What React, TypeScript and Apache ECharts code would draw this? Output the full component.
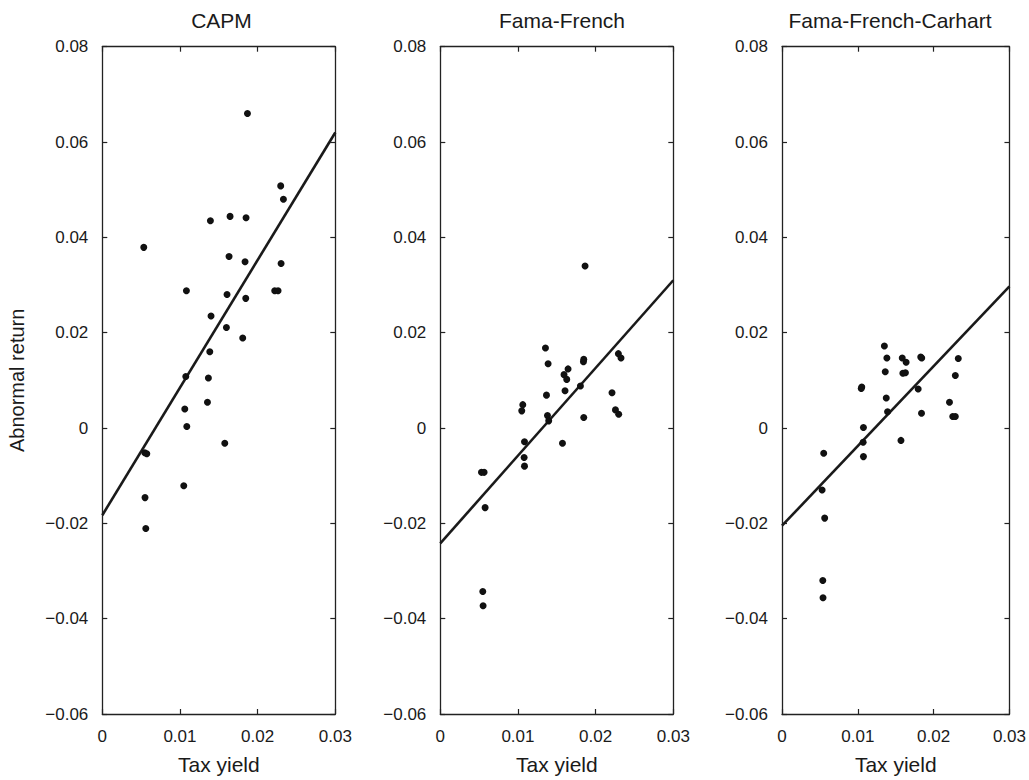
import React, { useEffect, useRef } from "react";
import * as echarts from "echarts";

const panelTitles = ["CAPM", "Fama-French", "Fama-French-Carhart"];
const xTicks = { min: 0, max: 0.03, interval: 0.01 };
const yTicks = { min: -0.06, max: 0.08, interval: 0.02 };
const xAxisName = "Tax yield";
const yAxisName = "Abnormal return";

const capmPoints: [number, number][] = [
  [0.01869, 0.066], [0.02297, 0.0508], [0.02332, 0.048], [0.01392, 0.0435],
  [0.01645, 0.0444], [0.01851, 0.0441], [0.00534, 0.0379], [0.01632, 0.036],
  [0.01838, 0.0349], [0.02302, 0.0345], [0.01083, 0.0288], [0.01606, 0.028],
  [0.01847, 0.0272], [0.0222, 0.0288], [0.02263, 0.0288], [0.014, 0.0235],
  [0.01598, 0.0211], [0.01808, 0.0189], [0.01384, 0.016], [0.01075, 0.0108],
  [0.01366, 0.0105], [0.01354, 0.0054], [0.01062, 0.004], [0.01088, 0.0003],
  [0.01577, -0.0032], [0.00547, -0.0052], [0.00573, -0.0054], [0.01049, -0.0121],
  [0.0055, -0.0146], [0.0056, -0.0211],
];

const ffPoints: [number, number][] = [
  [0.01864, 0.034], [0.01354, 0.0168], [0.01388, 0.0135], [0.01847, 0.0144],
  [0.01843, 0.0139], [0.02293, 0.0156], [0.02327, 0.0147], [0.01645, 0.0124],
  [0.01593, 0.0112], [0.01628, 0.0102], [0.01804, 0.0088], [0.02211, 0.0074],
  [0.01367, 0.0069], [0.01606, 0.0078], [0.01062, 0.0049], [0.01049, 0.0036],
  [0.02255, 0.0038], [0.02297, 0.0029], [0.0138, 0.0026], [0.01396, 0.0015],
  [0.01847, 0.0022], [0.01084, -0.0029], [0.01573, -0.0032], [0.01079, -0.0062],
  [0.01084, -0.008], [0.0053, -0.0093], [0.00564, -0.0093], [0.00577, -0.0167],
  [0.00547, -0.0343], [0.00551, -0.0373],
];

const ffcPoints: [number, number][] = [
  [0.0135, 0.0172], [0.01383, 0.0147], [0.01586, 0.0147], [0.01637, 0.0138],
  [0.0183, 0.0149], [0.01843, 0.0147], [0.02325, 0.0146], [0.01362, 0.0118],
  [0.01594, 0.0115], [0.01628, 0.0116], [0.02286, 0.011], [0.01045, 0.0083],
  [0.01052, 0.0086], [0.01796, 0.0082], [0.01375, 0.0063], [0.02209, 0.0054],
  [0.01392, 0.0034], [0.0184, 0.0031], [0.02252, 0.0024], [0.02286, 0.0024],
  [0.01074, 0.0001], [0.0107, -0.003], [0.01569, -0.0026], [0.0055, -0.0053],
  [0.01074, -0.006], [0.00529, -0.013], [0.00563, -0.0189], [0.00538, -0.032],
  [0.00541, -0.0356],
];

// regression line endpoints at x = 0 and x = 0.03
const lineX = [0, 0.03];
const capmLine = [-0.0183, 0.062];
const ffLine = [-0.0242, 0.031];
const ffcLine = [-0.0205, 0.0297];

const FONT = "'Liberation Sans', Arial, Helvetica, sans-serif";
const INK = "#1a1a1a";

export default function App() {
  const ref = useRef<HTMLDivElement>(null);

  useEffect(() => {
    if (!ref.current) return;
    document.body.style.margin = "0";
    document.documentElement.style.overflow = "hidden";
    document.body.style.overflow = "hidden";
    const chart = echarts.init(ref.current, undefined, { renderer: "svg" });

    const W = 1029;
    const H = 780;
    const pctW = (v: number) => (v / W) * 100 + "%";
    const pctH = (v: number) => (v / H) * 100 + "%";

    const gridLefts = [102.3, 440.3, 782];
    const gridWidths = [233, 233, 232];
    const titleCenters = [216.5, 557, 885];
    const pointsSets = [capmPoints, ffPoints, ffcPoints];
    const lines = [capmLine, ffLine, ffcLine];

    const fmtY = (v: number) =>
      Math.abs(v) < 1e-9 ? "0" : (v < 0 ? "\u2212" : "") + Math.abs(v).toFixed(2);
    const fmtX = (v: number) => (Math.abs(v) < 1e-9 ? "0" : v.toFixed(2));

    const axisLine = { show: true, onZero: false, lineStyle: { color: "#222", width: 1.3 } };
    const tick = { show: true, inside: true, length: 5, lineStyle: { color: "#222", width: 1.2 } };

    const grid: any[] = [];
    const xAxis: any[] = [];
    const yAxis: any[] = [];
    const series: any[] = [];
    const title: any[] = [];

    for (let i = 0; i < 3; i++) {
      grid.push({
        left: pctW(gridLefts[i]),
        width: pctW(gridWidths[i]),
        top: pctH(46.7),
        height: pctH(672),
      });
      title.push({
        text: panelTitles[i],
        left: pctW(titleCenters[i]),
        textAlign: "center",
        top: 5,
        textStyle: { fontFamily: FONT, fontSize: 21, fontWeight: "normal", color: INK },
      });
      xAxis.push({
        type: "value",
        gridIndex: i,
        position: "bottom",
        min: xTicks.min,
        max: xTicks.max,
        interval: xTicks.interval,
        name: xAxisName,
        nameLocation: "middle",
        nameGap: 40,
        nameTextStyle: { fontFamily: FONT, fontSize: 21, color: INK },
        axisLine,
        axisTick: tick,
        axisLabel: { fontFamily: FONT, fontSize: 17, color: INK, margin: 14, formatter: fmtX },
        splitLine: { show: false },
      });
      xAxis.push({
        type: "value",
        gridIndex: i,
        position: "top",
        min: xTicks.min,
        max: xTicks.max,
        interval: xTicks.interval,
        axisLine,
        axisTick: tick,
        axisLabel: { show: false },
        splitLine: { show: false },
      });
      yAxis.push({
        type: "value",
        gridIndex: i,
        position: "left",
        min: yTicks.min,
        max: yTicks.max,
        interval: yTicks.interval,
        name: i === 0 ? yAxisName : "",
        nameLocation: "middle",
        nameGap: 75,
        nameTextStyle: { fontFamily: FONT, fontSize: 20, color: INK },
        axisLine,
        axisTick: tick,
        axisLabel: { fontFamily: FONT, fontSize: 17, color: INK, margin: 14, formatter: fmtY },
        splitLine: { show: false },
      });
      yAxis.push({
        type: "value",
        gridIndex: i,
        position: "right",
        min: yTicks.min,
        max: yTicks.max,
        interval: yTicks.interval,
        axisLine,
        axisTick: tick,
        axisLabel: { show: false },
        splitLine: { show: false },
      });
      series.push({
        type: "line",
        xAxisIndex: 2 * i,
        yAxisIndex: 2 * i,
        data: lineX.map((x, k) => [x, lines[i][k]]),
        symbol: "none",
        lineStyle: { color: INK, width: 2.6 },
        z: 2,
      });
      series.push({
        type: "scatter",
        xAxisIndex: 2 * i,
        yAxisIndex: 2 * i,
        data: pointsSets[i],
        symbol: "circle",
        symbolSize: 7,
        itemStyle: { color: "#111", opacity: 1 },
        z: 3,
      });
    }

    chart.setOption({
      animation: false,
      backgroundColor: "#ffffff",
      title,
      grid,
      xAxis,
      yAxis,
      series,
    });

    const onResize = () => chart.resize();
    window.addEventListener("resize", onResize);
    return () => {
      window.removeEventListener("resize", onResize);
      chart.dispose();
    };
  }, []);

  return (
    <div
      ref={ref}
      style={{ position: "absolute", left: 0, top: 0, width: "100vw", height: "100vh", overflow: "hidden" }}
    />
  );
}
